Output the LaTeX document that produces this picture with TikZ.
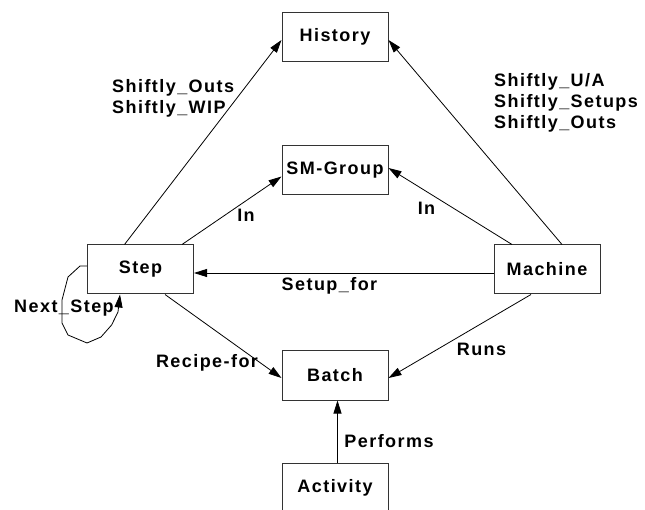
\documentclass[tikz,border=0pt]{standalone}
\usepackage{fontspec}
\newfontfamily\diafont[LetterSpace=8]{Liberation Sans}
\usetikzlibrary{arrows.meta}

\begin{document}
\begin{tikzpicture}[
  x=1pt,y=-1pt,
  font=\diafont\bfseries\fontsize{18}{21}\selectfont,
  >={Triangle[length=13pt,width=8pt]},
  ent/.style={draw=black!80, line width=1pt, minimum width=106pt, minimum height=49pt, inner sep=0pt},
  rel/.style={->, line width=0.8pt},
  lbl/.style={inner sep=0pt, align=left}
]
  \clip (0,0) rectangle (645,510);

  \node[ent] (hist) at (335,37) {History};
  \node[ent] (smg) at (335,170.5) {SM-Group};
  \node[ent] (step) at (140.5,269.5) {Step};
  \node[ent] (mach) at (547,269.5) {Machine};
  \node[ent] (batch) at (335,375.5) {Batch};
  \node[ent] (act) at (335,488) {Activity};

  \draw[rel] ([xshift=-16pt]step.north) -- ([yshift=-3pt]hist.west);
  \draw[rel] ([xshift=15pt]mach.north) -- ([yshift=-3pt]hist.east);
  \draw[rel] ([xshift=41.5pt]step.north) -- ([yshift=-6pt]smg.west);
  \draw[rel] ([xshift=-35pt]mach.north) -- ([yshift=2.5pt]smg.east);
  \draw[rel] ([yshift=-3.5pt]mach.west) -- ([yshift=-3.5pt]step.east);
  \draw[rel] ([xshift=24.5pt]step.south) -- ([yshift=-2.5pt]batch.west);
  \draw[rel] ([xshift=-16pt]mach.south) -- ([yshift=-2.5pt]batch.east);
  \draw[rel] ([xshift=2.5pt]act.north) -- ([xshift=2.5pt]batch.south);
  % self loop on Step
  \draw[rel] ([yshift=3.5pt]step.west) -- ++(-7,0) -- (68,277) -- (62,300)
    -- (62,323) -- (68,335) -- (87,343) -- (101,337) -- (111.6,325)
    -- (118,312) -- ([xshift=-20.5pt]step.south);

  \node[lbl, anchor=west] (lhist) at (112,98.5) {Shiftly\_Outs\\Shiftly\_WIP};
  \node[lbl, anchor=west] (rhist) at (494,102.5) {Shiftly\_U/A\\Shiftly\_Setups\\Shiftly\_Outs};
  \node[lbl] (lin) at (246,215) {In};
  \node[lbl] (rin) at (426.5,208) {In};
  \node[lbl] (setup) at (329.5,286) {Setup\_for};
  \node[lbl] (next) at (64,308) {Next\_Step};
  \node[lbl] (recipe) at (207,363) {Recipe-for};
  \node[lbl] (runs) at (481.5,349) {Runs};
  \node[lbl] (perf) at (389,441) {Performs};
\end{tikzpicture}
\end{document}
